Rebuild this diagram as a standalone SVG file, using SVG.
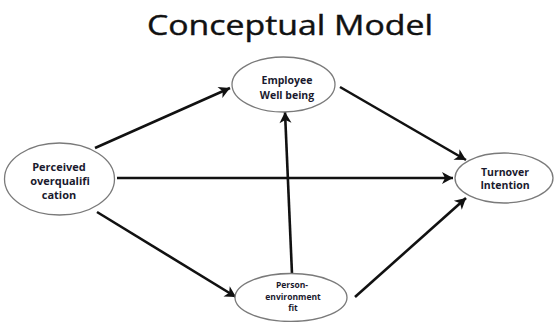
<svg xmlns="http://www.w3.org/2000/svg" width="554" height="322" viewBox="0 0 554 322">
  <defs>
    <style>
      .node ellipse { fill: #ffffff; stroke: #7a7a7a; stroke-width: 1.3; }
      .lbl { font-family: "Open Sans", "Liberation Sans", sans-serif; font-weight: bold; fill: #1a1a2e; text-anchor: middle; }
      .edge { stroke: #111111; stroke-width: 2.6; fill: none; marker-end: url(#arrow); }
      .title { font-family: "Open Sans", "Liberation Sans", sans-serif; font-size: 27px; font-weight: normal; fill: #111111; stroke: #111111; stroke-width: 0.4; text-anchor: middle; }
    </style>
    <marker id="arrow" markerUnits="userSpaceOnUse" markerWidth="16" markerHeight="16" viewBox="-14 -8 16 16" refX="0" refY="0" orient="auto">
      <path d="M0,0 L-11,-6 L-8,0 L-11,6 Z" fill="#111111"/>
    </marker>
  </defs>

  <rect width="554" height="322" fill="#ffffff"/>

  <text class="title" x="290" y="35" textLength="286" lengthAdjust="spacingAndGlyphs">Conceptual Model</text>

  <g id="connectors">
    <line class="edge" x1="95" y1="148" x2="230" y2="88"/>
    <line class="edge" x1="340" y1="87" x2="466" y2="160"/>
    <line class="edge" x1="117" y1="178" x2="453" y2="178"/>
    <line class="edge" x1="97" y1="212" x2="236" y2="297"/>
    <line class="edge" x1="355" y1="297" x2="466" y2="198"/>
    <line class="edge" x1="292" y1="274" x2="285" y2="112"/>
  </g>

  <g id="perceived-overqualification" class="node">
    <ellipse cx="59.5" cy="179" rx="55" ry="36"/>
    <text class="lbl" font-size="11" x="59" y="171">Perceived</text>
    <text class="lbl" font-size="11" x="60" y="185">overqualifi</text>
    <text class="lbl" font-size="11" x="59" y="199">cation</text>
  </g>

  <g id="employee-well-being" class="node">
    <ellipse cx="283.5" cy="84.5" rx="51.5" ry="27.5"/>
    <text class="lbl" font-size="10.5" x="287" y="84">Employee</text>
    <text class="lbl" font-size="10.5" x="287" y="99">Well being</text>
  </g>

  <g id="turnover-intention" class="node">
    <ellipse cx="504" cy="178" rx="49" ry="25"/>
    <text class="lbl" font-size="10.5" x="505" y="176">Turnover</text>
    <text class="lbl" font-size="10.5" x="505" y="189">Intention</text>
  </g>

  <g id="person-environment-fit" class="node">
    <ellipse cx="291" cy="297.5" rx="56" ry="24"/>
    <text class="lbl" font-size="8.5" x="292" y="288">Person-</text>
    <text class="lbl" font-size="8.5" x="293" y="300">environment</text>
    <text class="lbl" font-size="8.5" x="293" y="311">fit</text>
  </g>
</svg>
